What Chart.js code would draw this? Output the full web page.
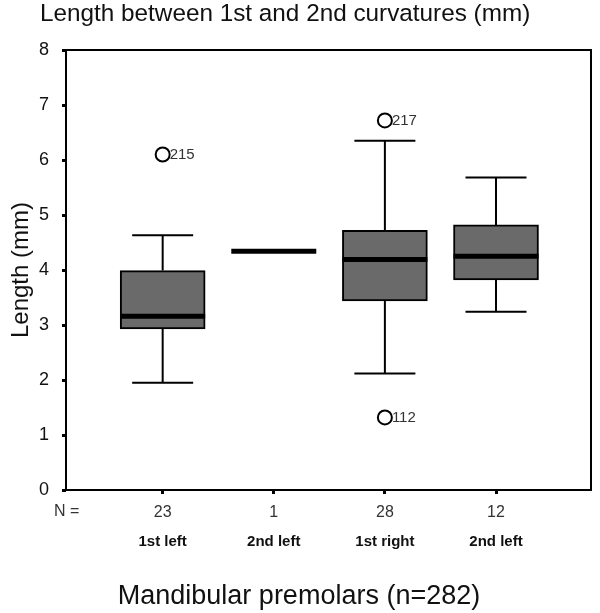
<!DOCTYPE html>
<html>
<head>
<meta charset="utf-8">
<script src="https://cdn.jsdelivr.net/npm/chart.js@4.4.1/dist/chart.umd.min.js"></script>
<style>
  html, body { margin: 0; padding: 0; background: #fff; }
  #wrap { width: 600px; height: 613px; }
</style>
</head>
<body>
<div id="wrap"><canvas id="boxChart"></canvas></div>
<script>
// Data
const groups = ['1st left', '2nd left', '1st right', '2nd left'];
const counts = [23, 1, 28, 12];
const positions = [1, 2, 3, 4];
const whiskerLow = [1.95, 4.34, 2.12, 3.24];
const q1 = [2.93, 4.34, 3.44, 3.82];
const medians = [3.16, 4.34, 4.19, 4.25];
const q3 = [3.99, 4.34, 4.72, 4.82];
const whiskerHigh = [4.63, 4.34, 6.35, 5.68];
const outlierGroup = [0, 2, 2];
const outlierValues = [6.10, 6.72, 1.32];
const outlierIds = ['215', '217', '112'];

const FONT = "'Liberation Sans', Arial, sans-serif";
const BOX_W = 85;
const CAP_W = 61;

// boxes only where there is a spread
const boxData = positions.map((p, i) => q3[i] > q1[i] ? { x: p, y: [q1[i], q3[i]] } : null).filter(Boolean);
const outlierData = outlierValues.map((v, i) => ({ x: positions[outlierGroup[i]], y: v }));

// whiskers, medians, outlier ids
const boxParts = {
    id: 'boxParts',
    afterDatasetsDraw(chart) {
        const { ctx, scales: { x, y } } = chart;
        ctx.save();
        ctx.strokeStyle = '#000';
        ctx.lineCap = 'butt';
        positions.forEach((p, i) => {
            const cx = x.getPixelForValue(p);
            if (whiskerHigh[i] > q3[i] || whiskerLow[i] < q1[i]) {
                ctx.lineWidth = 2;
                ctx.beginPath();
                ctx.moveTo(cx, y.getPixelForValue(q3[i]));
                ctx.lineTo(cx, y.getPixelForValue(whiskerHigh[i]));
                ctx.moveTo(cx - CAP_W / 2, y.getPixelForValue(whiskerHigh[i]));
                ctx.lineTo(cx + CAP_W / 2, y.getPixelForValue(whiskerHigh[i]));
                ctx.moveTo(cx, y.getPixelForValue(q1[i]));
                ctx.lineTo(cx, y.getPixelForValue(whiskerLow[i]));
                ctx.moveTo(cx - CAP_W / 2, y.getPixelForValue(whiskerLow[i]));
                ctx.lineTo(cx + CAP_W / 2, y.getPixelForValue(whiskerLow[i]));
                ctx.stroke();
            }
            ctx.lineWidth = 5;
            ctx.beginPath();
            ctx.moveTo(cx - BOX_W / 2, y.getPixelForValue(medians[i]));
            ctx.lineTo(cx + BOX_W / 2, y.getPixelForValue(medians[i]));
            ctx.stroke();
        });
        ctx.fillStyle = '#333';
        ctx.font = '15px ' + FONT;
        ctx.textAlign = 'left';
        ctx.textBaseline = 'middle';
        outlierValues.forEach((v, i) => {
            ctx.fillText(outlierIds[i], x.getPixelForValue(positions[outlierGroup[i]]) + 7, y.getPixelForValue(v));
        });
        ctx.restore();
    },
    afterDraw(chart) {
        const { ctx, chartArea: a } = chart;
        ctx.save();
        ctx.strokeStyle = '#000';
        ctx.lineWidth = 2;
        ctx.strokeRect(a.left, a.top, a.right - a.left, a.bottom - a.top);
        ctx.fillStyle = '#111';
        ctx.textBaseline = 'middle';
        ctx.font = '24.3px ' + FONT;
        ctx.textAlign = 'left';
        ctx.fillText('Length between 1st and 2nd curvatures (mm)', 40, 14);
        ctx.font = '27px ' + FONT;
        ctx.textAlign = 'center';
        ctx.fillText('Mandibular premolars (n=282)', 299, 597);
        ctx.font = '16px ' + FONT;
        ctx.fillStyle = '#333';
        ctx.textAlign = 'left';
        ctx.fillText('N =', 54, 512);
        ctx.restore();
    }
};

const ctx = document.getElementById('boxChart').getContext('2d');
const chart = new Chart(ctx, {
    type: 'bar',
    data: {
        datasets: [
            {
                type: 'bar',
                data: boxData,
                backgroundColor: '#6a6a6a',
                borderColor: '#000',
                borderWidth: 2,
                borderSkipped: false,
                barThickness: BOX_W,
                xAxisID: 'x',
                yAxisID: 'y'
            },
            {
                type: 'scatter',
                data: outlierData,
                pointStyle: 'circle',
                pointRadius: 7,
                pointBorderWidth: 2,
                pointBorderColor: '#000',
                pointBackgroundColor: 'rgba(255,255,255,0)',
                xAxisID: 'x',
                yAxisID: 'y'
            }
        ]
    },
    options: {
        responsive: true,
        maintainAspectRatio: false,
        animation: false,
        layout: { padding: { left: 6, top: 50, right: 8, bottom: 59 } },
        plugins: {
            legend: { display: false },
            tooltip: { enabled: false }
        },
        scales: {
            x: {
                type: 'linear',
                position: 'bottom',
                offset: false,
                min: 0.13,
                max: 4.855,
                weight: 0,
                afterBuildTicks: s => { s.ticks = positions.map(v => ({ value: v })); },
                afterFit: s => { s.height = 34; },
                ticks: {
                    callback: (v, i) => counts[i],
                    color: '#333',
                    font: { family: FONT, size: 16 },
                    padding: 9,
                    maxRotation: 0
                },
                grid: { offset: false, drawOnChartArea: false, tickLength: 4, tickWidth: 3, tickColor: '#000' },
                border: { display: false }
            },
            x2: {
                type: 'linear',
                position: 'bottom',
                offset: false,
                min: 0.13,
                max: 4.855,
                weight: 1,
                afterBuildTicks: s => { s.ticks = positions.map(v => ({ value: v })); },
                afterFit: s => { s.height = 30; },
                ticks: {
                    callback: (v, i) => groups[i],
                    color: '#111',
                    font: { family: FONT, size: 15, weight: 'bold' },
                    padding: 9,
                    maxRotation: 0
                },
                grid: { offset: false, display: false, drawTicks: false },
                border: { display: false }
            },
            y: {
                min: 0,
                max: 8,
                afterFit: s => { s.width = 60; },
                ticks: {
                    stepSize: 1,
                    color: '#111',
                    font: { family: FONT, size: 18 },
                    padding: 13
                },
                grid: { drawOnChartArea: false, tickLength: 4, tickWidth: 3, tickColor: '#000' },
                border: { display: false },
                title: {
                    display: true,
                    text: 'Length (mm)',
                    color: '#111',
                    font: { family: FONT, size: 24 },
                    padding: { top: 1, bottom: 0 }
                }
            }
        }
    },
    plugins: [boxParts]
});
</script>
</body>
</html>
